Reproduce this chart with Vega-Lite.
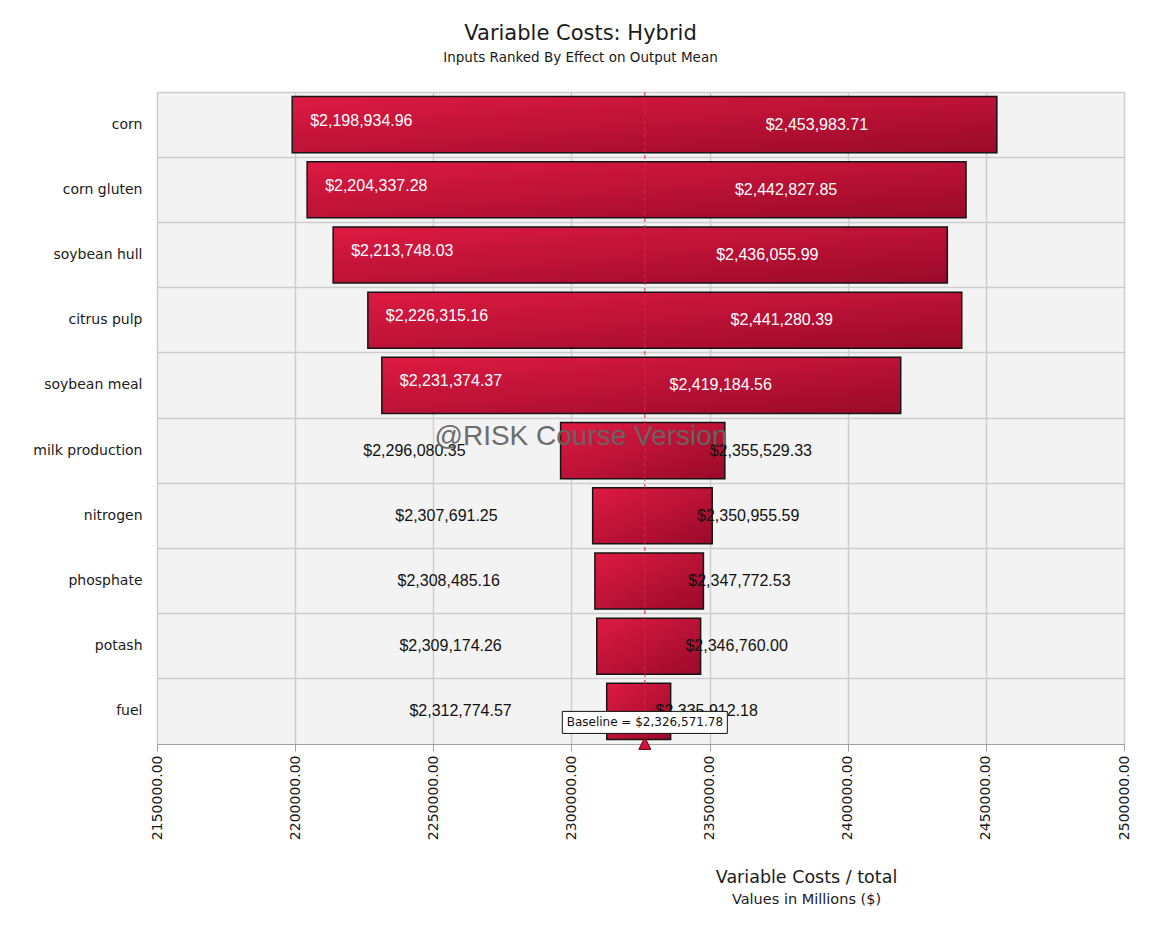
{
  "$schema": "https://vega.github.io/schema/vega-lite/v6.json",
  "width": 967,
  "height": 652,
  "autosize": {"type": "none"},
  "padding": {"left": 157, "top": 92, "right": 29, "bottom": 186},
  "background": "white",
  "title": {
    "text": "Variable Costs: Hybrid",
    "subtitle": "Inputs Ranked By Effect on Output Mean",
    "font": "DejaVu Sans",
    "fontSize": 21,
    "fontWeight": "normal",
    "color": "#1a1a1a",
    "subtitleFont": "DejaVu Sans",
    "subtitleFontSize": 13.5,
    "subtitleColor": "#1a1a1a",
    "subtitlePadding": 7,
    "anchor": "middle",
    "dx": -60,
    "offset": 27
  },
  "config": {
    "font": "DejaVu Sans",
    "view": {"fill": "#f3f3f3", "stroke": "#a8a8a8", "strokeWidth": 1}
  },
  "datasets": {
    "rows": [
      {"name": "corn", "low": 2198934.96, "high": 2453983.71},
      {"name": "corn gluten", "low": 2204337.28, "high": 2442827.85},
      {"name": "soybean hull", "low": 2213748.03, "high": 2436055.99},
      {"name": "citrus pulp", "low": 2226315.16, "high": 2441280.39},
      {"name": "soybean meal", "low": 2231374.37, "high": 2419184.56},
      {"name": "milk production", "low": 2296080.35, "high": 2355529.33},
      {"name": "nitrogen", "low": 2307691.25, "high": 2350955.59},
      {"name": "phosphate", "low": 2308485.16, "high": 2347772.53},
      {"name": "potash", "low": 2309174.26, "high": 2346760.00},
      {"name": "fuel", "low": 2312774.57, "high": 2335912.18}
    ],
    "baseline": [
      {"value": 2326571.78, "label": "Baseline = $2,326,571.78", "row": "fuel"}
    ],
    "watermark": [
      {"x": 2303460, "row": "milk production", "label": "@RISK Course Version"}
    ]
  },
  "resolve": {"axis": {"x": "independent"}},
  "layer": [
    {
      "layer": [
        {
          "data": {"name": "rows"},
          "mark": {
            "type": "bar",
            "height": {"band": 0.86},
            "stroke": "#151515",
            "strokeWidth": 1.5,
            "fill": {
              "gradient": "linear",
              "x1": 0, "y1": 0, "x2": 1, "y2": 1,
              "stops": [
                {"offset": 0, "color": "#de1a42"},
                {"offset": 1, "color": "#9a0a2a"}
              ]
            }
          },
          "encoding": {
            "y": {
              "field": "name",
              "type": "nominal",
              "sort": null,
              "scale": {"paddingInner": 0, "paddingOuter": 0},
              "axis": {
                "title": null,
                "ticks": false,
                "domain": false,
                "labelFont": "DejaVu Sans",
                "labelFontSize": 14,
                "labelPadding": 15,
                "labelColor": "#1a1a1a",
                "grid": true,
                "gridColor": "#cdcdcd",
                "gridWidth": 1.5,
                "bandPosition": 0
              }
            },
            "x": {
              "field": "low",
              "type": "quantitative",
              "scale": {"domain": [2150000, 2500000], "nice": false, "zero": false},
              "axis": {
                "values": [2150000, 2200000, 2250000, 2300000, 2350000, 2400000, 2450000, 2500000],
                "format": ".2f",
                "labelAngle": -90,
                "labelFont": "DejaVu Sans",
                "labelFontSize": 14,
                "labelColor": "#1a1a1a",
                "labelPadding": 4,
                "tickColor": "#a0a0a0",
                "tickSize": 7,
                "domainColor": "#a0a0a0",
                "grid": true,
                "gridColor": "#cdcdcd",
                "gridWidth": 1.5,
                "title": "Variable Costs / total",
                "titleFont": "DejaVu Sans",
                "titleFontSize": 17.5,
                "titleFontWeight": "normal",
                "titleColor": "#1a1a1a",
                "titleX": 649,
                "titleY": 133,
                "titleAlign": "center",
                "titleBaseline": "middle"
              }
            },
            "x2": {"field": "high"}
          }
        },
        {
          "data": {"name": "baseline"},
          "mark": {"type": "rule", "color": "#d42a4c", "strokeDash": [4, 3], "strokeWidth": 1},
          "encoding": {"x": {"field": "value", "type": "quantitative"}}
        },
        {
          "data": {"name": "rows"},
          "transform": [{"filter": "datum.high - datum.low > 100000"}],
          "mark": {"type": "text", "align": "left", "baseline": "middle", "dx": 18, "dy": -4, "font": "Liberation Sans", "fontSize": 16, "color": "#ffffff"},
          "encoding": {
            "y": {"field": "name", "type": "nominal", "sort": null},
            "x": {"field": "low", "type": "quantitative"},
            "text": {"field": "low", "type": "quantitative", "format": "$,.2f"}
          }
        },
        {
          "data": {"name": "rows"},
          "transform": [{"filter": "datum.high - datum.low > 100000"}],
          "mark": {"type": "text", "align": "center", "baseline": "middle", "dx": -180, "font": "Liberation Sans", "fontSize": 16, "color": "#ffffff"},
          "encoding": {
            "y": {"field": "name", "type": "nominal", "sort": null},
            "x": {"field": "high", "type": "quantitative"},
            "text": {"field": "high", "type": "quantitative", "format": "$,.2f"}
          }
        },
        {
          "data": {"name": "rows"},
          "transform": [{"filter": "datum.high - datum.low <= 100000"}],
          "mark": {"type": "text", "align": "right", "baseline": "middle", "dx": -95, "font": "Liberation Sans", "fontSize": 16, "color": "#111111"},
          "encoding": {
            "y": {"field": "name", "type": "nominal", "sort": null},
            "x": {"field": "low", "type": "quantitative"},
            "text": {"field": "low", "type": "quantitative", "format": "$,.2f"}
          }
        },
        {
          "data": {"name": "rows"},
          "transform": [{"filter": "datum.high - datum.low <= 100000"}],
          "mark": {"type": "text", "align": "center", "baseline": "middle", "dx": 36, "font": "Liberation Sans", "fontSize": 16, "color": "#111111"},
          "encoding": {
            "y": {"field": "name", "type": "nominal", "sort": null},
            "x": {"field": "high", "type": "quantitative"},
            "text": {"field": "high", "type": "quantitative", "format": "$,.2f"}
          }
        },
        {
          "data": {"name": "watermark"},
          "mark": {"type": "text", "align": "center", "baseline": "middle", "dy": -14, "font": "Liberation Sans", "fontSize": 28, "color": "#666666", "opacity": 0.95},
          "encoding": {
            "x": {"field": "x", "type": "quantitative"},
            "y": {"field": "row", "type": "nominal", "sort": null},
            "text": {"field": "label"}
          }
        },
        {
          "data": {"name": "baseline"},
          "mark": {"type": "point", "shape": "M-1,0L1,0L1,0.267L-1,0.267Z", "size": 27225, "filled": true, "fill": "#ffffff", "stroke": "#111111", "strokeWidth": 1, "opacity": 1},
          "encoding": {
            "x": {"field": "value", "type": "quantitative"},
            "y": {"field": "row", "type": "nominal", "sort": null}
          }
        },
        {
          "data": {"name": "baseline"},
          "mark": {"type": "text", "align": "center", "baseline": "middle", "dy": 11, "font": "DejaVu Sans", "fontSize": 12, "color": "#111111"},
          "encoding": {
            "x": {"field": "value", "type": "quantitative"},
            "y": {"field": "row", "type": "nominal", "sort": null},
            "text": {"field": "label"}
          }
        },
        {
          "data": {"name": "baseline"},
          "mark": {"type": "point", "shape": "M0,0.65L0.15,0.95L-0.15,0.95Z", "size": 6400, "filled": true, "fill": "#d3143c", "stroke": "#5a0010", "strokeWidth": 1, "opacity": 1},
          "encoding": {
            "x": {"field": "value", "type": "quantitative"},
            "y": {"field": "row", "type": "nominal", "sort": null}
          }
        }
      ]
    },
    {
      "data": {"name": "baseline"},
      "mark": {"type": "rule", "opacity": 0},
      "encoding": {
        "x": {
          "field": "value",
          "type": "quantitative",
          "axis": {
            "orient": "top",
            "title": "Values in Millions  ($)",
            "labels": false,
            "ticks": false,
            "domain": false,
            "grid": false,
            "titleFont": "DejaVu Sans",
            "titleFontSize": 14.5,
            "titleFontWeight": "normal",
            "titleColor": "#1a1a1a",
            "titleX": 649,
            "titleY": 807,
            "titleAlign": "center",
            "titleBaseline": "middle"
          }
        }
      }
    }
  ]
}
